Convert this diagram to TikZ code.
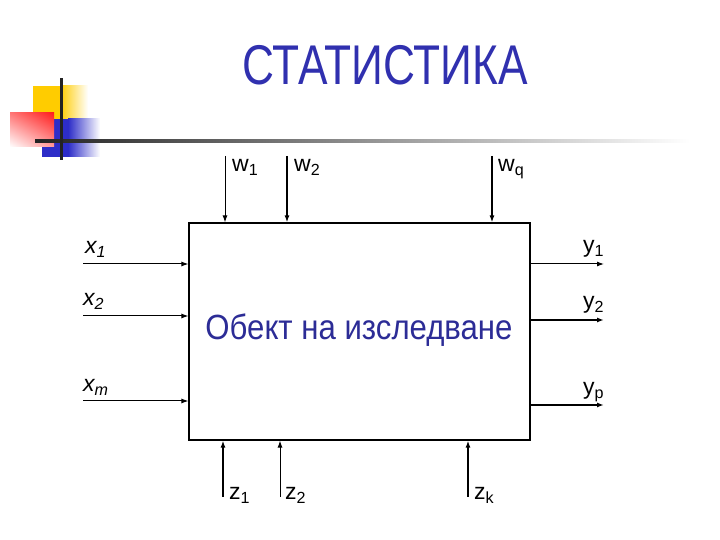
\documentclass[tikz,border=0pt]{standalone}
\usepackage{fontspec}
\setmainfont{Liberation Sans}
\usetikzlibrary{arrows.meta,shadings}
\definecolor{slideblue}{RGB}{48,48,175}
\definecolor{textblue}{RGB}{44,44,150}
\definecolor{sqyellow}{RGB}{255,204,0}
\definecolor{sqred}{RGB}{255,30,30}
\definecolor{sqblue}{RGB}{45,45,200}
\definecolor{barcol}{RGB}{35,35,35}
\tikzset{
  inarrow/.style={-{Latex[length=7pt,width=5pt]},line width=1pt},
  thickarrow/.style={inarrow,line width=2pt},
  lbl/.style={anchor=base west,inner sep=0pt,font=\fontsize{23}{25}\selectfont},
  xlbl/.style={lbl,font=\fontsize{23}{25}\selectfont\itshape}
}
\begin{document}
\begin{tikzpicture}[x=1pt,y=1pt]
\useasboundingbox (0,0) rectangle (720,540);
%decoration
\fill[sqyellow] (33,454) rectangle (60,420);
\shade[left color=sqyellow,right color=white] (60,454) rectangle (88,420);
\fill[sqblue] (42,421) rectangle (68,383);
\shade[left color=sqblue,right color=white] (68,421) rectangle (100,383);
\shade[upper right=sqred,upper left=sqred!60,lower right=sqred!45,lower left=white] (10,427) rectangle (54,393);
\shade[left color=barcol,right color=white] (35,397.5) rectangle (690,400.5);
\fill[barcol] (59.5,462) rectangle (62.5,380);
%title
\node[font=\fontsize{56}{60}\selectfont,text=slideblue,anchor=base] (title) at (385,455) {\scalebox{0.79}[1]{СТАТИСТИКА}};
%object
\node[draw,line width=1.2pt,minimum width=341pt,minimum height=217pt,inner sep=0pt] (obj) at (359.5,208.5) {};
\node[font=\fontsize{35}{40}\selectfont,text=textblue,anchor=base] (objname) at (359,200) {\scalebox{0.89}[1]{Обект на изследване}};
%arrows
\foreach \n/\x/\s in {1/225/inarrow,2/287/thickarrow,q/492/thickarrow}{
  \coordinate (w\n) at (\x,384);
  \draw[\s] (w\n) -- (w\n |- obj.north);
}
\foreach \n/\y in {1/276,2/224,m/139}{
  \coordinate (x\n) at (83,\y);
  \draw[inarrow] (x\n) -- (x\n -| obj.west);
}
\foreach \n/\y/\s in {1/276/inarrow,2/220/thickarrow,p/135/thickarrow}{
  \coordinate (y\n) at (604,\y);
  \draw[\s] (y\n -| obj.east) -- (y\n);
}
\foreach \n/\x/\s in {1/223/thickarrow,2/280/inarrow,k/468/thickarrow}{
  \coordinate (z\n) at (\x,43);
  \draw[\s] (z\n) -- (z\n |- obj.south);
}
%labels
\node[lbl] (lw1) at (232,368) {w\textsubscript{1}};
\node[lbl] (lw2) at (294,368) {w\textsubscript{2}};
\node[lbl] (lwq) at (498,368) {w\textsubscript{q}};
\node[xlbl] (lx1) at (85,286) {x\textsubscript{1}};
\node[xlbl] (lx2) at (83,234) {x\textsubscript{2}};
\node[xlbl] (lxm) at (83,148) {x\textsubscript{m}};
\node[lbl] (ly1) at (583,287) {y\textsubscript{1}};
\node[lbl] (ly2) at (583,231) {y\textsubscript{2}};
\node[lbl] (lyp) at (583,145) {y\textsubscript{p}};
\node[lbl] (lz1) at (229,40) {z\textsubscript{1}};
\node[lbl] (lz2) at (285,40) {z\textsubscript{2}};
\node[lbl] (lzk) at (474,40) {z\textsubscript{k}};
\end{tikzpicture}
\end{document}
